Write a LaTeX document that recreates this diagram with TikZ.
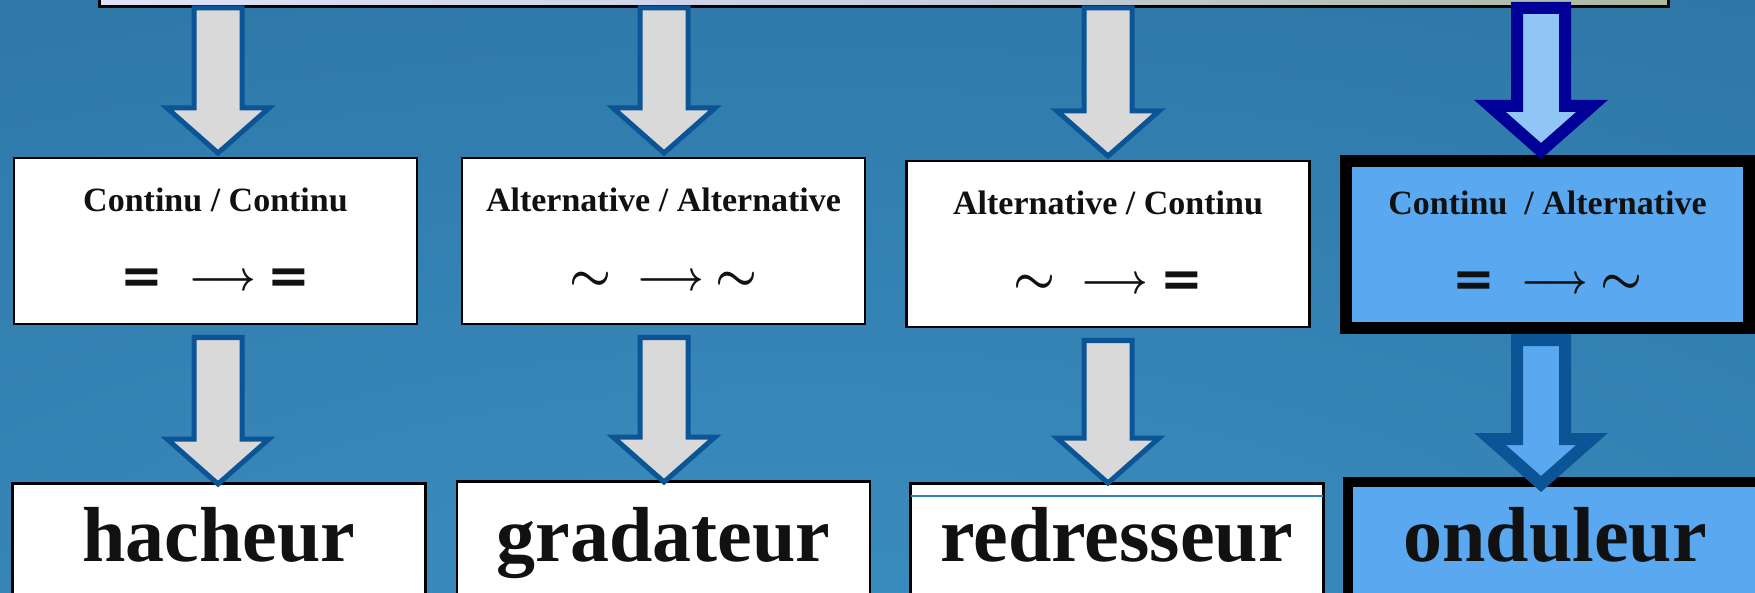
\documentclass[tikz,border=0pt]{standalone}
\usepackage{fontspec}
\usepackage{graphicx}
\setmainfont{Liberation Serif}
\newfontfamily\eqfont{DejaVu Sans}
\usetikzlibrary{calc}
\definecolor{bgl}{RGB}{60,143,193}
\definecolor{bgd}{RGB}{30,95,140}
\definecolor{arrblue}{RGB}{11,84,150}
\definecolor{arrgray}{RGB}{217,217,217}
\definecolor{navyline}{RGB}{0,0,153}
\definecolor{lightblue}{RGB}{145,197,245}
\definecolor{midblue}{RGB}{90,169,240}
\definecolor{topl}{RGB}{222,226,250}
\definecolor{topm}{RGB}{200,208,228}
\definecolor{topr}{RGB}{168,186,160}
\definecolor{ink}{RGB}{17,17,17}
\definecolor{rule}{RGB}{45,130,190}
\newcommand\blockarrow[3]{%
  \draw[#1] let \p1=#2, \p2=#3 in
  (\x2-24pt,\y1) -- (\x2+24pt,\y1) -- (\x2+24pt,\y2+45pt) -- (\x2+51pt,\y2+45pt)
  -- (\x2,\y2) -- (\x2-51pt,\y2+45pt) -- (\x2-24pt,\y2+45pt) -- cycle;}
\newcommand\eqs{{\eqfont\bfseries\fontsize{51}{51}\selectfont =}}
\newcommand\arr{\raisebox{3pt}{\scalebox{3.6}[4.2]{\boldmath$\longrightarrow$}}}
\newcommand\wav{\raisebox{3pt}{\scalebox{4.7}{\boldmath$\sim$}}}
\tikzset{
  wbox/.style={draw=black, line width=2.5pt, fill=white, minimum width=403pt,
    minimum height=166pt, inner sep=0pt, anchor=north},
  selbox/.style={draw=black, line width=12pt, fill=midblue, minimum width=403pt,
    minimum height=167pt, inner sep=0pt, anchor=north},
  lowbox/.style={wbox, minimum width=413pt, minimum height=170pt},
  lowsel/.style={draw=black, line width=10pt, fill=midblue, minimum width=414pt,
    minimum height=170pt, inner sep=0pt, anchor=north},
  topbox/.style={draw=black, line width=2.5pt, left color=topl, right color=topr,
    middle color=topm, minimum width=1569pt, minimum height=40pt, anchor=south},
  ttl/.style={font=\fontsize{34}{38}\selectfont\bfseries, text=ink, inner sep=0pt, anchor=base},
  sym/.style={text=ink, inner sep=0pt, anchor=base},
  big/.style={font=\fontsize{78}{84}\selectfont\bfseries, text=ink, inner sep=0pt, anchor=base},
  garrow/.style={draw=arrblue, fill=arrgray, line width=5pt},
  selarrow/.style={draw=navyline, fill=lightblue, line width=12pt},
  selarrowlow/.style={draw=arrblue, fill=midblue, line width=12pt},
}
\begin{document}
\begin{tikzpicture}[x=1pt,y=-1pt]
\useasboundingbox (0,0) rectangle (1755,593);
\clip (0,0) rectangle (1755,593);
\shade[inner color=bgl, outer color=bgd] (800,700) ellipse (4000pt and 1600pt);
\node[topbox] (top) at (884,8) {};
% first row
\node[wbox] (b1) at (215.5,157) {};
\node[wbox] (b2) at (663.5,157) {};
\node[wbox] (b3) at (1108,160) {};
\node[selbox] (b4) at (1547.5,155) {};
\node[ttl] (t1) at ($(b1.center)+(0,-30)$) {Continu / Continu};
\node[ttl] (t2) at ($(b2.center)+(0,-30)$) {Alternative / Alternative};
\node[ttl] (t3) at ($(b3.center)+(0,-30)$) {Alternative / Continu};
\node[ttl] (t4) at ($(b4.center)+(0,-30)$) {Continu\ \ / Alternative};
\node[sym] (s1) at ($(b1.center)+(0,52)$) {\eqs\hspace{26pt}\arr\hspace{12pt}\eqs};
\node[sym] (s2) at ($(b2.center)+(0,52)$) {\wav\hspace{26pt}\arr\hspace{12pt}\wav};
\node[sym] (s3) at ($(b3.center)+(0,52)$) {\wav\hspace{26pt}\arr\hspace{12pt}\eqs};
\node[sym] (s4) at ($(b4.center)+(0,52)$) {\eqs\hspace{26pt}\arr\hspace{12pt}\wav};
% second row
\node[lowbox] (h1) at (219,482) {};
\node[lowbox] (h2) at (663.5,480) {};
\node[lowbox] (h3) at (1117,482) {};
\node[lowsel] (h4) at (1555,477) {};
\draw[rule, line width=1.5pt] ($(h3.north west)+(1.5,14)$) -- ($(h3.north east)+(-1.5,14)$);
\node[big] (l1) at (219,561) {hacheur};
\node[big] (l2) at (663.5,561) {gradateur};
\node[big] (l3) at (1116.5,561) {redresseur};
\node[big] (l4) at (1555,561) {onduleur};
% arrows
\blockarrow{garrow}{(b1.north |- top.south)}{($(b1.north)+(2.5,-4)$)}
\blockarrow{garrow}{(b2.north |- top.south)}{($(b2.north)+(0.5,-4)$)}
\blockarrow{garrow}{(b3.north |- top.south)}{($(b3.north)+(0,-4)$)}
\blockarrow{selarrow}{(b4.north |- top.south)}{($(b4.north)+(-6.5,-4)$)}
\blockarrow{garrow}{($(b1.south)+(0,12)$)}{($(h1.north)+(-1,2)$)}
\blockarrow{garrow}{($(b2.south)+(0,12)$)}{($(h2.north)+(0.5,2)$)}
\blockarrow{garrow}{($(b3.south)+(0,12)$)}{($(h3.north)+(-9,1)$)}
\blockarrow{selarrowlow}{($(b4.south)+(0,6)$)}{($(h4.north)+(-14,7)$)}
\end{tikzpicture}
\end{document}
